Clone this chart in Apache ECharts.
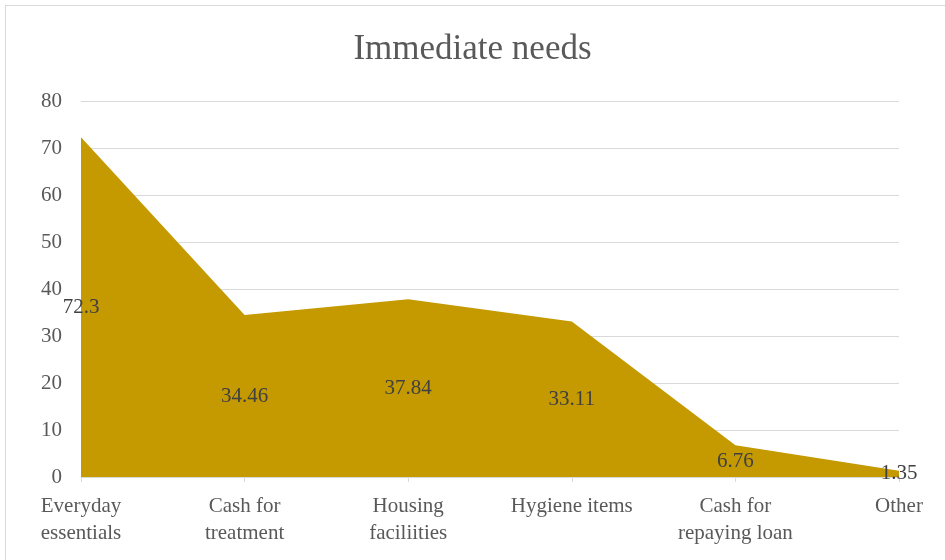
<!DOCTYPE html>
<html><head><meta charset="utf-8">
<script src="https://cdn.jsdelivr.net/npm/echarts@6/dist/echarts.min.js"></script>
<style>html,body{margin:0;padding:0;background:#fff;}
#frame{position:absolute;left:5px;top:5px;width:945px;height:560px;box-sizing:border-box;border:1px solid #d9d9d9;}
#c{position:absolute;left:0;top:0;width:945px;height:560px;}</style>
</head><body><div id="frame"></div><div id="c"></div>
<script>
const categories = ['Everyday\nessentials','Cash for\ntreatment','Housing\nfaciliities','Hygiene items','Cash for\nrepaying loan','Other'];
const values = [72.3, 34.46, 37.84, 33.11, 6.76, 1.35];
const yTicks = {min:0, max:80, interval:10};
const font = "'Liberation Serif', serif";
const chart = echarts.init(document.getElementById('c'));
chart.setOption({
  animation:false,
  title:{text:'Immediate needs', left:'center', top:27, textStyle:{fontFamily:font, fontWeight:'normal', fontSize:35, color:'#595959'}},
  grid:{left:81, right:46, top:101, bottom:83},
  xAxis:{type:'category', boundaryGap:false, data:categories,
    axisLine:{lineStyle:{color:'#d9d9d9', width:1}},
    axisTick:{show:true, alignWithLabel:true, length:5, lineStyle:{color:'#d9d9d9'}},
    axisLabel:{fontFamily:font, fontSize:21, color:'#595959', lineHeight:27, margin:16, interval:0}},
  yAxis:{type:'value', min:yTicks.min, max:yTicks.max, interval:yTicks.interval,
    axisLine:{show:false}, axisTick:{show:false},
    splitLine:{lineStyle:{color:'#d9d9d9', width:1}},
    axisLabel:{fontFamily:font, fontSize:21, color:'#595959', margin:19}},
  series:[
    {type:'line', data:values, symbol:'none', lineStyle:{width:0}, areaStyle:{color:'#C49A00', opacity:1}, silent:true},
    {type:'line', data:values.map(v=>v/2), symbol:'circle', symbolSize:1, showSymbol:true,
      itemStyle:{opacity:0}, lineStyle:{opacity:0, width:0}, silent:true,
      label:{show:true, position:'inside', opacity:1, fontFamily:font, fontSize:21, color:'#404040',
        formatter:p=>String(values[p.dataIndex])}}
  ]
});
</script></body></html>
